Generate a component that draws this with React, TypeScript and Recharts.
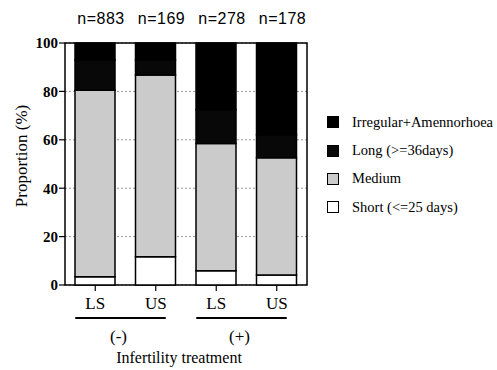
import { BarChart, Bar, XAxis, YAxis, CartesianGrid, ReferenceArea, LabelList } from 'recharts'

const categories = ['LS', 'US', 'LS', 'US']
const treatmentGroups = ['(-)', '(-)', '(+)', '(+)']
const sampleSizes = [883, 169, 278, 178]

// stacked percentages, bottom to top
const shortPct = [3.4, 11.7, 5.9, 4.1]
const mediumPct = [77.1, 75.1, 52.6, 48.5]
const longPct = [12.6, 6.2, 13.9, 9.5]
const irregularPct = [6.9, 7.0, 27.6, 37.9]

const yTicks = [0, 20, 40, 60, 80, 100]

const series = [
  { key: 'short', name: 'Short (<=25 days)', color: '#ffffff' },
  { key: 'medium', name: 'Medium', color: '#cbcbcb' },
  { key: 'long', name: 'Long (>=36days)', color: '#080808' },
  { key: 'irregular', name: 'Irregular+Amennorhoea', color: '#000000' },
]

const data = categories.map((c, i) => ({
  label: c,
  n: sampleSizes[i],
  short: shortPct[i],
  medium: mediumPct[i],
  long: longPct[i],
  irregular: irregularPct[i],
}))

const SERIF = '"Liberation Serif", "Times New Roman", serif'
const SANS = '"Liberation Sans", Arial, sans-serif'

const GroupTick = (props: any) => {
  const { x, y, payload, index } = props
  const idx = payload?.index ?? index
  const half = payload?.offset || 30
  const first = idx === 0 || treatmentGroups[idx] !== treatmentGroups[idx - 1]
  return (
    <g>
      <text x={x} y={y} dy="0.8em" textAnchor="middle" fontFamily={SERIF} fontSize={17} fill="#000">
        {payload.value}
      </text>
      {first && (
        <>
          <line x1={x - 20} x2={x + 2 * half + 10} y1={y + 23} y2={y + 23} stroke="#000" strokeWidth={2.2} />
          <text x={x + half - 7} y={y + 47} textAnchor="middle" fontFamily={SERIF} fontSize={17} fill="#000">
            {treatmentGroups[idx]}
          </text>
        </>
      )}
    </g>
  )
}

const NLabel = (props: any) => {
  const { x, y, width, value } = props
  return (
    <text x={x + width / 2 + 6} y={y - 19} textAnchor="middle" fontFamily={SANS} fontSize={16} letterSpacing={0.5} fill="#000">
      n={value}
    </text>
  )
}

export default function App() {
  return (
    <div style={{ position: 'absolute', left: 0, top: 0, width: 497, height: 370, background: '#fff' }}>
      <BarChart width={497} height={370} data={data} margin={{ top: 43, right: 190, left: 0, bottom: 5 }}>
        <CartesianGrid vertical={false} stroke="#999" strokeDasharray="2 2" />
        <XAxis
          dataKey="label"
          height={80}
          axisLine={false}
          tickLine={{ stroke: '#000', strokeWidth: 1.2 }}
          tickSize={6}
          tickMargin={4}
          tick={<GroupTick />}
          label={{
            content: (p: any) => (
              <text
                x={p.viewBox.x + p.viewBox.width / 2 - 7}
                y={p.viewBox.y + 78}
                textAnchor="middle"
                fontFamily={SERIF}
                fontSize={16}
                fill="#000"
              >
                Infertility treatment
              </text>
            ),
          }}
        />
        <YAxis
          width={65}
          domain={[0, 100]}
          ticks={yTicks}
          axisLine={false}
          tickLine={{ stroke: '#000', strokeWidth: 1.2 }}
          tickSize={6}
          tickMargin={1}
          tick={{ fill: '#000', fontSize: 15, fontWeight: 'bold', fontFamily: SERIF }}
          label={{
            content: (p: any) => {
              const cx = p.viewBox.x + 21
              const cy = p.viewBox.y + p.viewBox.height / 2 - 8
              return (
                <text
                  x={cx}
                  y={cy}
                  transform={`rotate(-90 ${cx} ${cy})`}
                  textAnchor="middle"
                  dominantBaseline="central"
                  fontFamily={SERIF}
                  fontSize={17}
                  fill="#000"
                >
                  Proportion (%)
                </text>
              )
            },
          }}
        />
        {series.map((s, i) => (
          <Bar
            key={s.key}
            dataKey={s.key}
            name={s.name}
            stackId="a"
            barSize={40}
            fill={s.color}
            stroke="#000"
            strokeWidth={1.5}
            isAnimationActive={false}
          >
            {i === series.length - 1 && <LabelList dataKey="n" content={<NLabel />} />}
          </Bar>
        ))}
        <ReferenceArea y1={0} y2={100} fill="none" stroke="#000" strokeWidth={1.5} ifOverflow="visible" />
      </BarChart>
      <div style={{ position: 'absolute', left: 327, top: 108, fontFamily: SERIF, fontSize: 14.5, color: '#000' }}>
        {[...series].reverse().map((s) => (
          <div key={s.key} style={{ display: 'flex', alignItems: 'center', height: 28.4 }}>
            <span
              style={{
                display: 'inline-block',
                width: 10,
                height: 10,
                background: s.color,
                border: '1px solid #000',
                marginRight: 13,
              }}
            />
            <span style={{ whiteSpace: 'nowrap' }}>{s.name}</span>
          </div>
        ))}
      </div>
    </div>
  )
}
